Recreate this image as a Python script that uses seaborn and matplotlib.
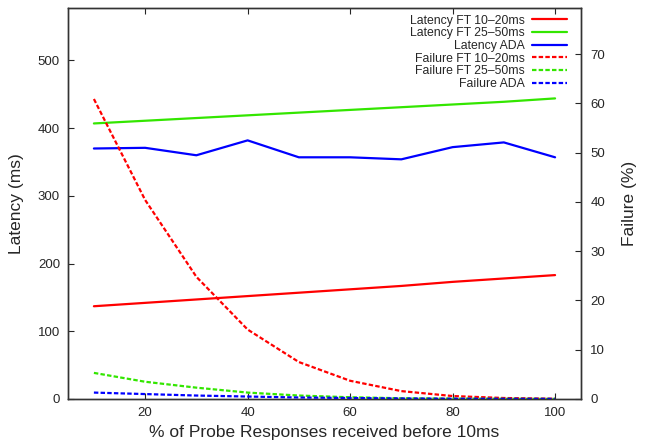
import seaborn as sns
import matplotlib.pyplot as plt
import pandas as pd

# datos
porcentaje = [10, 20, 30, 40, 50, 60, 70, 80, 90, 100]
lat_ft_10_20 = [137, 142, 147, 152, 157, 162, 167, 173, 178, 183]
lat_ft_25_50 = [407, 411, 415, 419, 423, 427, 431, 435, 439, 444]
lat_ada = [370, 371, 360, 382, 357, 357, 354, 372, 379, 357]
fail_ft_10_20 = [60.9, 40.4, 24.8, 14.1, 7.5, 3.7, 1.6, 0.6, 0.2, 0.05]
fail_ft_25_50 = [5.3, 3.5, 2.3, 1.3, 0.7, 0.35, 0.15, 0.08, 0.04, 0.02]
fail_ada = [1.3, 1.0, 0.7, 0.5, 0.3, 0.2, 0.1, 0.05, 0.03, 0.02]

lat_labels = ["Latency FT 10\u201320ms", "Latency FT 25\u201350ms", "Latency ADA"]
fail_labels = ["Failure FT 10\u201320ms", "Failure FT 25\u201350ms", "Failure ADA"]
colores = ["#ff0000", "#33e600", "#0000ff"]

df_lat = pd.DataFrame({"x": porcentaje * 3,
                       "y": lat_ft_10_20 + lat_ft_25_50 + lat_ada,
                       "serie": sum([[l] * len(porcentaje) for l in lat_labels], [])})
df_fail = pd.DataFrame({"x": porcentaje * 3,
                        "y": fail_ft_10_20 + fail_ft_25_50 + fail_ada,
                        "serie": sum([[l] * len(porcentaje) for l in fail_labels], [])})

sns.set_style("white")
plt.rcParams['font.family'] = ['Liberation Sans', 'DejaVu Sans']

fig = plt.figure(figsize=(6.46, 4.4), dpi=100)
ax = fig.add_axes([0.1057, 0.0932, 0.7932, 0.8878])
ax2 = ax.twinx()

sns.lineplot(data=df_lat, x="x", y="y", hue="serie", palette=colores,
             linewidth=1.6, ax=ax, legend=False)
sns.lineplot(data=df_fail, x="x", y="y", hue="serie", palette=colores,
             linewidth=1.6, ax=ax2, legend=False)
for linea in ax2.get_lines():
    linea.set_dashes((2, 1))

ax.set_xlim(5, 105)
ax.set_ylim(0, 577)
ax2.set_ylim(0, 79.3)
ax.set_xticks([20, 40, 60, 80, 100])
ax.set_yticks([0, 100, 200, 300, 400, 500])
ax2.set_yticks([0, 10, 20, 30, 40, 50, 60, 70])

ax.set_xlabel("% of Probe Responses received before 10ms", fontsize=12.5, labelpad=4)
ax.set_ylabel("Latency (ms)", fontsize=12.5, labelpad=10)
ax2.set_ylabel("Failure (%)", fontsize=12.5, labelpad=12)

ax.tick_params(axis='both', direction='in', length=4, labelsize=9.5, top=True, bottom=True, left=True, pad=6)
ax2.tick_params(axis='y', direction='in', length=4, labelsize=9.5, right=True, pad=7)
ax2.tick_params(axis='x', top=False)
for a in (ax, ax2):
    for s in a.spines.values():
        s.set_color("#333333")
        s.set_linewidth(1)

handles = ax.get_lines()[:3] + ax2.get_lines()[:3]
ax2.legend(handles, lat_labels + fail_labels, loc="upper right", frameon=False,
           markerfirst=False, fontsize=8.8, labelspacing=0.05, handlelength=2.85,
           handletextpad=0.65, borderaxespad=0.7, bbox_to_anchor=(1.0, 1.018))

fig.savefig("out.png", dpi=100)
